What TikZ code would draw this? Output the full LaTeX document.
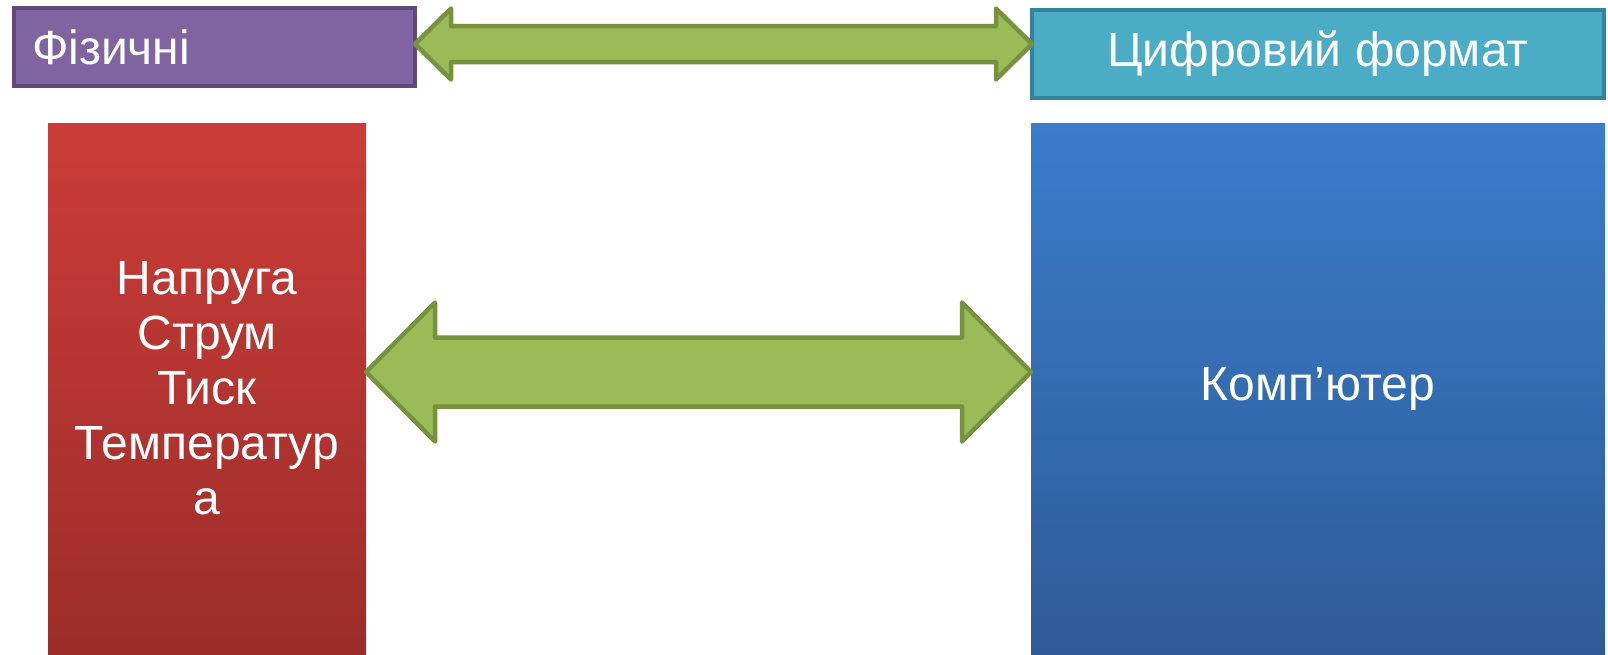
\documentclass[tikz,border=0pt]{standalone}
\usepackage{fontspec}
\setmainfont{Liberation Sans}
\usetikzlibrary{calc}
\definecolor{physfill}{HTML}{8064A2}
\definecolor{physline}{HTML}{5F497A}
\definecolor{digifill}{HTML}{4BACC6}
\definecolor{digiline}{HTML}{31849B}
\definecolor{quanttop}{HTML}{CB3C38}
\definecolor{quantbot}{HTML}{9C2D2A}
\definecolor{comptop}{HTML}{3A7DCB}
\definecolor{compbot}{HTML}{2E5B97}
\definecolor{arrowfill}{HTML}{9BBB59}
\definecolor{arrowline}{HTML}{76923C}
\def\twowayarrow(#1)(#2)(#3:#4:#5){\draw[arrowbody] (#1) -- ($(#1)+(#5,-#4)$) -- ($(#1)+(#5,-#3)$) -- ($(#2)+(-#5,-#3)$) -- ($(#2)+(-#5,-#4)$) -- (#2) -- ($(#2)+(-#5,#4)$) -- ($(#2)+(-#5,#3)$) -- ($(#1)+(#5,#3)$) -- ($(#1)+(#5,#4)$) -- cycle;}

\begin{document}
\begin{tikzpicture}[x=1pt, y=-1pt,
	box/.style={inner sep=0pt, outer sep=0pt, anchor=north west, text=white, font=\fontsize{48}{55}\selectfont},
	physbox/.style={box, draw=physline, fill=physfill, line width=4pt, minimum width=401pt, minimum height=78pt, inner xsep=18pt, text width=365pt, align=left},
	digibox/.style={box, draw=digiline, fill=digifill, line width=4pt, minimum width=572pt, minimum height=88pt},
	quantbox/.style={box, top color=quanttop, bottom color=quantbot, minimum width=318pt, minimum height=531pt, align=center},
	compbox/.style={box, top color=comptop, bottom color=compbot, minimum width=574pt, minimum height=531pt},
	arrowbody/.style={draw=arrowline, fill=arrowfill, line width=4.5pt, line join=round}]
		%%%%% START %%%%%
		\useasboundingbox (0,0) rectangle (1608,654);
		
		\node[physbox] (phys) at (14,8) {Фізичні};
		\node[digibox] (digi) at (1032,10) {Цифровий формат};
		
		\node[quantbox] (quant) at (48,123) {Напруга\\Струм\\Тиск\\Температур\\а};
		\node[compbox] (comp) at (1031,123) {Комп’ютер};
		
		\coordinate (topaxis) at (0,44);
		\coordinate (midaxis) at (0,372);
		\coordinate (topleft) at (phys.east |- topaxis);
		\coordinate (topright) at (digi.west |- topaxis);
		\coordinate (midleft) at (quant.east |- midaxis);
		\coordinate (midright) at (comp.west |- midaxis);
		
		\twowayarrow(topleft)(topright)(18:35.5:36);
		\twowayarrow(midleft)(midright)(34.5:69.5:69);
		
		%%%%% END %%%%%
	\end{tikzpicture}
\end{document}
